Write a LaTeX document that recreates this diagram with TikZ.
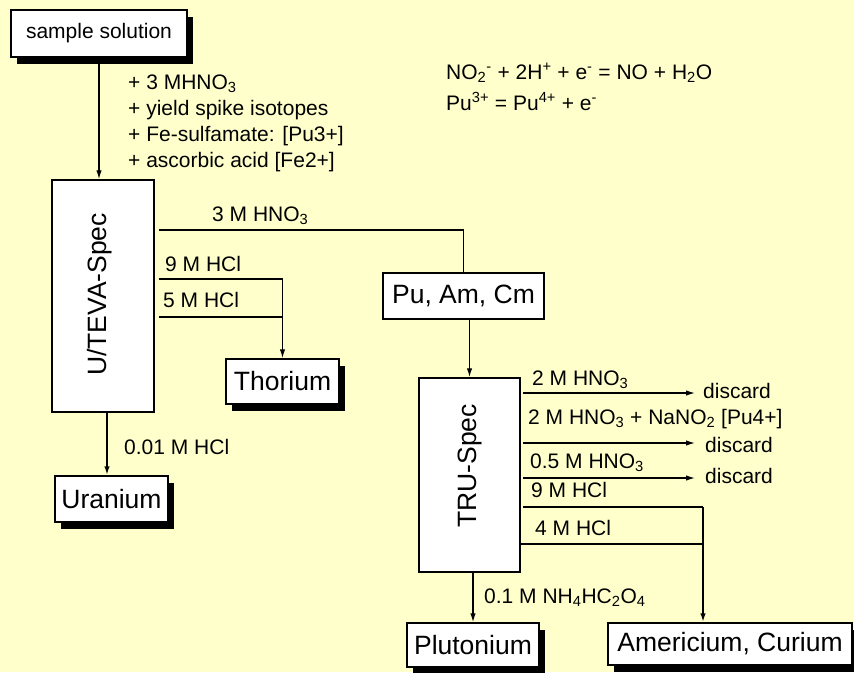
\documentclass[tikz,border=0pt]{standalone}
\usepackage{fontspec}
\setmainfont{Liberation Sans}
\usetikzlibrary{arrows.meta,shadows}
\definecolor{paper}{RGB}{255,255,204}
\newcommand{\lbsize}{\fontsize{21}{26}\selectfont}
\newcommand{\bgsize}{\fontsize{26.5}{30}\selectfont}
\tikzset{
  col/.style  ={draw,fill=white,line width=1.5pt,inner sep=0pt,font=\bgsize},
  prod/.style ={col,drop shadow={shadow xshift=6pt,shadow yshift=-7pt,
                opacity=1,fill=black}},
  colname/.style={font=\bgsize,inner sep=0pt,rotate=90},
  lbl/.style  ={font=\lbsize,inner sep=0pt,anchor=base west},
  ln/.style   ={line width=1.3pt},
  thk/.style  ={line width=2.2pt},
  ar/.style   ={-{Latex[length=9pt,width=5.5pt]}},
}
\begin{document}
\begin{tikzpicture}[x=1pt,y=-1pt]
\path[use as bounding box,fill=paper] (0,0) rectangle (854,672);
\node[prod,font=\lbsize,minimum width=176pt,minimum height=47pt] (sample) at (99,33.5) {sample solution};
\node[col,minimum width=102pt,minimum height=232pt] (teva) at (103,296) {};
\node[colname] (tevaname) at (100,294.5) {U/TEVA-Spec};
\node[prod,minimum width=113pt,minimum height=46pt] (uranium) at (111.5,499) {Uranium};
\node[prod,minimum width=113pt,minimum height=45pt] (thorium) at (282.5,381.5) {Thorium};
\node[col,minimum width=161pt,minimum height=46pt] (puamcm) at (463.5,296) {Pu, Am, Cm};
\node[col,minimum width=101pt,minimum height=194pt] (tru) at (469.5,475) {};
\node[colname] (truname) at (470,466) {TRU-Spec};
\node[prod,minimum width=132pt,minimum height=44pt] (plutonium) at (473,645) {Plutonium};
\node[prod,minimum width=244pt,minimum height=42pt] (amcm) at (730,644) {Americium, Curium};

\node[font=\lbsize,inner sep=0pt,anchor=north west,align=left] (feed) at (128,75)
  {+ 3 MHNO\textsubscript{3}\\+ yield spike isotopes\\+ Fe-sulfamate: [Pu3+]\\+ ascorbic acid [Fe2+]};
\node[lbl] (eqa) at (446,79.5) {NO\textsubscript{2}\textsuperscript{-} + 2H\textsuperscript{+} + e\textsuperscript{-} = NO + H\textsubscript{2}O};
\node[lbl] (eqb) at (446,110) {Pu\textsuperscript{3+} = Pu\textsuperscript{4+} + e\textsuperscript{-}};

\node[lbl] (l1) at (212,221) {3 M HNO\textsubscript{3}};
\node[lbl] (l2) at (165,271) {9 M HCl};
\node[lbl] (l3) at (163,307) {5 M HCl};
\node[lbl] (l4) at (124,454) {0.01 M HCl};
\node[lbl] (l5) at (532,385) {2 M HNO\textsubscript{3}};
\node[lbl] (l6) at (528,424) {2 M HNO\textsubscript{3} + NaNO\textsubscript{2} [Pu4+]};
\node[lbl] (l7) at (530,468) {0.5 M HNO\textsubscript{3}};
\node[lbl] (l8) at (531,497) {9 M HCl};
\node[lbl] (l9) at (535,535) {4 M HCl};
\node[lbl] (l10) at (484,603) {0.1 M NH\textsubscript{4}HC\textsubscript{2}O\textsubscript{4}};
\node[lbl] (d1) at (703,398) {discard};
\node[lbl] (d2) at (705,452) {discard};
\node[lbl] (d3) at (705,483) {discard};

\coordinate (t1) at (159,230); \coordinate (t2) at (159,279); \coordinate (t3) at (159,317);
\coordinate (o1) at (523,393); \coordinate (o2) at (523,443); \coordinate (o3) at (523,478);
\coordinate (o4) at (523,507); \coordinate (o5) at (520,544); \coordinate (drop) at (703,507);

\draw[ln,ar] (sample.south) -- (sample.south |- teva.north);
\draw[ln] (t1) -| (puamcm.north);
\draw[ln,ar] (t2) -| (thorium.north);
\draw[ln] (t3) -- (t3 -| thorium.north);
\draw[thk,ar] (teva.south) ++(4,0) coordinate (u0) -- (u0 |- uranium.north);
\draw[ln,ar] (puamcm.south -| tru.north) -- (tru.north);
\draw[ln,ar,shorten >=8pt] (o1) -- (o1 -| d1.west);
\draw[ln,ar,shorten >=10pt] (o2) -- (o2 -| d2.west);
\draw[ln,ar,shorten >=10pt] (o3) -- (o3 -| d3.west);
\draw[ln] (o4) -- (drop);
\draw[ln] (o5) -- (o5 -| drop);
\draw[thk,ar] (drop) -- (drop |- amcm.north);
\draw[ln,ar] (plutonium.north |- tru.south) -- (plutonium.north);
\end{tikzpicture}
\end{document}
